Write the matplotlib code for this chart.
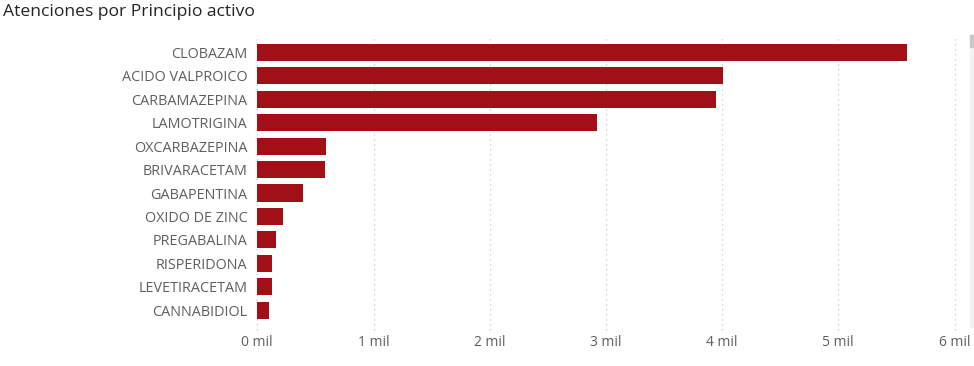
import matplotlib
matplotlib.use("Agg")
import matplotlib.pyplot as plt
from matplotlib.patches import Rectangle

categories = ["CLOBAZAM", "ACIDO VALPROICO", "CARBAMAZEPINA", "LAMOTRIGINA",
              "OXCARBAZEPINA", "BRIVARACETAM", "GABAPENTINA", "OXIDO DE ZINC",
              "PREGABALINA", "RISPERIDONA", "LEVETIRACETAM", "CANNABIDIOL"]
values = [5590, 4005, 3945, 2923, 594, 580, 393, 219, 161, 129, 126, 98]
xticks = [0, 1000, 2000, 3000, 4000, 5000, 6000]
xtick_labels = ["0 mil", "1 mil", "2 mil", "3 mil", "4 mil", "5 mil", "6 mil"]
title = "Atenciones por Principio activo"

W, H = 974, 366
fig = plt.figure(figsize=(W / 100, H / 100), dpi=100)
left, right = 257.3, 954.5
top, bottom = 40.8, 321.8
ax = fig.add_axes([left / W, 1 - bottom / H, (right - left) / W, (bottom - top) / H])

bar_color = "#A01016"
ypos = list(range(len(categories)))
ax.barh(ypos, values, height=0.73, color=bar_color, zorder=3)
ax.set_ylim(len(categories) - 0.5, -0.5)
ax.set_xlim(0, 6000)

for s in ax.spines.values():
    s.set_visible(False)

for t in xticks:
    ax.plot([t, t], [-0.03, 1.02], transform=ax.get_xaxis_transform(),
            color="#C8C8C8", lw=0.9, ls=(0, (1, 3)), clip_on=False, zorder=1)

ax.set_yticks(ypos)
ax.set_yticklabels(categories, fontsize=10.4, color="#605E5C", family="Open Sans")
ax.tick_params(axis="y", length=0, pad=7.2)
ax.set_xticks(xticks)
ax.set_xticklabels(xtick_labels, fontsize=10, color="#605E5C", family="Open Sans")
ax.tick_params(axis="x", length=0, pad=9.5)

fig.text(3 / W, 1 - 12 / H, title, fontsize=12.6, color="#252423",
         family="Open Sans", ha="left", va="center")

# scrollbar decoration
fig.patches.append(Rectangle((970 / W, 1 - 327 / H), 4 / W, 292 / H,
                             transform=fig.transFigure, color="#F3F3F3", zorder=0))
fig.patches.append(Rectangle((970 / W, 1 - 47 / H), 4 / W, 12 / H,
                             transform=fig.transFigure, color="#C8C8C8", zorder=1))

fig.savefig("out.png", dpi=100, facecolor="white")
